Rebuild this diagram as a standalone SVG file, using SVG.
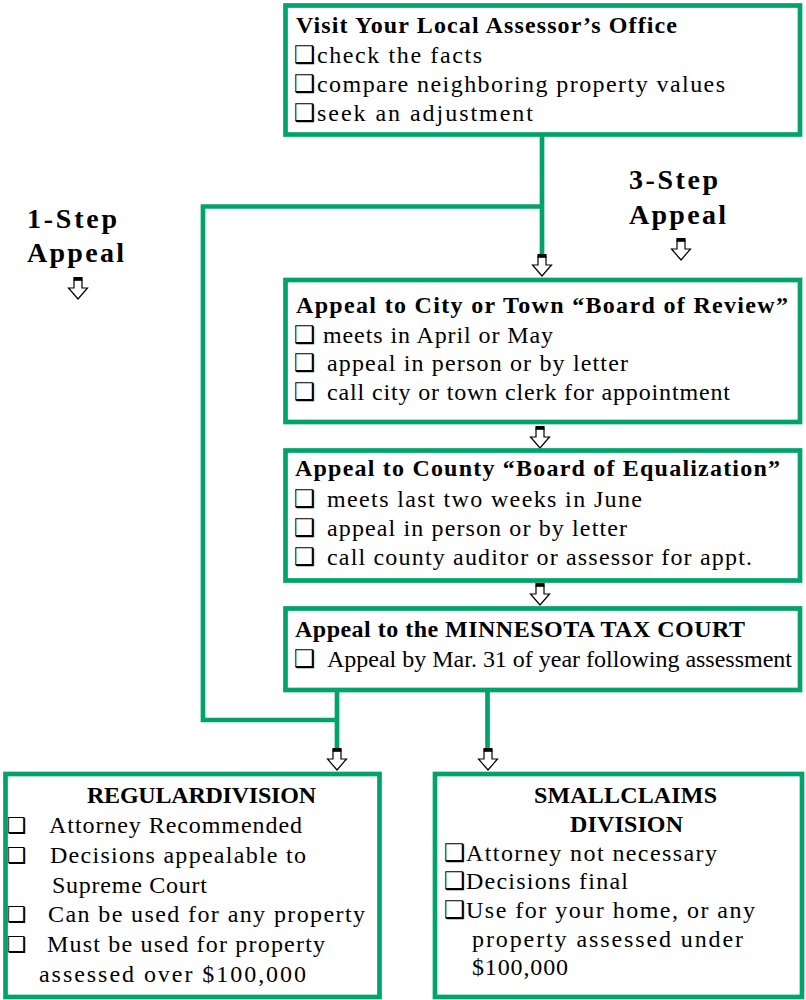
<svg xmlns="http://www.w3.org/2000/svg" xmlns:xlink="http://www.w3.org/1999/xlink" width="806" height="1000" viewBox="0 0 806 1000">
<style>
.box{fill:#fff;stroke:#00a46b;stroke-width:4.7}
.conn{fill:none;stroke:#00a46b;stroke-width:4.7}
.t{font-family:"Liberation Serif","Times New Roman",serif;font-size:24px;fill:#000}
.b{font-weight:bold;font-size:24px}
.lbl{font-family:"Liberation Serif","Times New Roman",serif;font-weight:bold;font-size:28px;fill:#000}
.cb{font-family:"DejaVu Sans",sans-serif;font-size:24px;font-weight:bold}
.cs{font-family:"DejaVu Sans",sans-serif;font-size:22px;font-weight:bold}
</style>
<defs>
<g id="arrow"><path d="M-4,3 V11 H-9.5 L0,22 L9.5,11 H4 V3 Z" fill="#fff" stroke="#000" stroke-width="1.2"/><rect x="-4.6" y="0" width="9.2" height="3.6" fill="#000"/></g>
</defs>
<rect width="806" height="1000" fill="#fff"/>

<g id="connectors">
<path class="conn" d="M542,136 V254"/>
<path class="conn" d="M542,206.5 H203 V720 H337"/>
<path class="conn" d="M337,692 V748"/>
<path class="conn" d="M487.5,692 V748"/>
<use href="#arrow" x="542" y="254"/>
<use href="#arrow" x="540" y="426"/>
<use href="#arrow" x="540" y="583"/>
<use href="#arrow" x="337" y="748"/>
<use href="#arrow" x="488" y="748"/>
</g>

<g id="assessor">
<rect class="box" x="285.5" y="5.5" width="514.5" height="129"/>
<text class="t b" x="296" y="33" textLength="381">Visit Your Local Assessor’s Office</text>
<text class="t" y="63"><tspan class="cb" x="294">❑</tspan><tspan x="317" textLength="165">check the facts</tspan></text>
<text class="t" y="92"><tspan class="cb" x="294">❑</tspan><tspan x="317" textLength="408">compare neighboring property values</tspan></text>
<text class="t" y="121"><tspan class="cb" x="294">❑</tspan><tspan x="317" textLength="216">seek an adjustment</tspan></text>
</g>

<g id="one-step">
<text class="lbl" x="27" y="228" textLength="90">1-Step</text>
<text class="lbl" x="27" y="262" textLength="97">Appeal</text>
<use href="#arrow" x="78" y="277"/>
</g>

<g id="three-step">
<text class="lbl" x="629" y="189" textLength="89">3-Step</text>
<text class="lbl" x="629" y="224" textLength="97">Appeal</text>
<use href="#arrow" x="681" y="238"/>
</g>

<g id="board-of-review">
<rect class="box" x="285.5" y="280" width="514.5" height="142"/>
<text class="t b" x="296" y="313" textLength="492">Appeal to City or Town “Board of Review”</text>
<text class="t" y="343"><tspan class="cb" x="294">❑ </tspan><tspan x="323" textLength="230">meets in April or May</tspan></text>
<text class="t" y="371"><tspan class="cb" x="294">❑ </tspan><tspan x="327" textLength="301">appeal in person or by letter</tspan></text>
<text class="t" y="400"><tspan class="cb" x="294">❑ </tspan><tspan x="327" textLength="403">call city or town clerk for appointment</tspan></text>
</g>

<g id="board-of-equalization">
<rect class="box" x="285.5" y="450.5" width="514.5" height="130"/>
<text class="t b" x="295" y="476" textLength="485">Appeal to County “Board of Equalization”</text>
<text class="t" y="507"><tspan class="cb" x="294">❑ </tspan><tspan x="327" textLength="315">meets last two weeks in June</tspan></text>
<text class="t" y="536"><tspan class="cb" x="294">❑ </tspan><tspan x="327" textLength="300">appeal in person or by letter</tspan></text>
<text class="t" y="565"><tspan class="cb" x="294">❑ </tspan><tspan x="327" textLength="425">call county auditor or assessor for appt.</tspan></text>
</g>

<g id="tax-court">
<rect class="box" x="285.5" y="608.5" width="514.5" height="81.5"/>
<text class="t b" x="295" y="637" textLength="450">Appeal to the MINNESOTA TAX COURT</text>
<text class="t" y="667"><tspan class="cb" x="294">❑ </tspan><tspan x="327" textLength="465">Appeal by Mar. 31 of year following assessment</tspan></text>
</g>

<g id="regular-division">
<rect class="box" x="5.5" y="774" width="374" height="223"/>
<text class="t b" x="87" y="803" textLength="229">REGULARDIVISION</text>
<text class="t" y="833"><tspan class="cs" x="7">❑ </tspan><tspan x="49" textLength="253">Attorney Recommended</tspan></text>
<text class="t" y="863"><tspan class="cs" x="7">❑ </tspan><tspan x="50" textLength="256">Decisions appealable to</tspan></text>
<text class="t" x="52" y="893" textLength="155">Supreme Court</text>
<text class="t" y="922"><tspan class="cs" x="7">❑ </tspan><tspan x="48" textLength="317">Can be used for any property</tspan></text>
<text class="t" y="952"><tspan class="cs" x="7">❑ </tspan><tspan x="47" textLength="278">Must be used for property</tspan></text>
<text class="t" x="39" y="982" textLength="267">assessed over $100,000</text>
</g>

<g id="small-claims">
<rect class="box" x="435" y="774" width="367" height="223"/>
<text class="t b" x="534" y="803" textLength="183">SMALLCLAIMS</text>
<text class="t b" x="570" y="832" textLength="113">DIVISION</text>
<text class="t" y="861"><tspan class="cb" x="444">❑</tspan><tspan x="466" textLength="251">Attorney not necessary</tspan></text>
<text class="t" y="889"><tspan class="cb" x="444">❑</tspan><tspan x="466" textLength="162">Decisions final</tspan></text>
<text class="t" y="918"><tspan class="cb" x="444">❑</tspan><tspan x="466" textLength="289">Use for your home, or any</tspan></text>
<text class="t" x="472" y="947" textLength="271">property assessed under</text>
<text class="t" x="472" y="975" textLength="96">$100,000</text>
</g>
</svg>
